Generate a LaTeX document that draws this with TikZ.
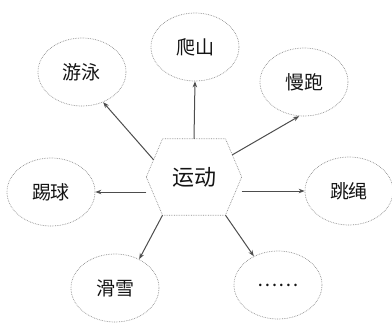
\documentclass[tikz,border=0pt]{standalone}
\usepackage{fontspec}
\newfontfamily\cjk{Noto Sans CJK SC}
\usepackage{tikz}
\usetikzlibrary{arrows.meta,positioning,shapes.geometric,calc}
\definecolor{Rim}{HTML}{8C8C8C}
\definecolor{Ink}{HTML}{4D4D4D}

\begin{document}
\begin{tikzpicture}[
    x=1pt,y=-1pt,
    topic/.style={ellipse,draw=Rim,densely dotted,line width=0.7pt,minimum width=88pt,
      minimum height=68pt,inner sep=0pt,font=\cjk\fontsize{19}{19}\selectfont,text=black!92},
    hub/.style={minimum width=95pt,minimum height=76pt,inner sep=0pt,
      font=\cjk\fontsize{22}{22}\selectfont,text=black!92},
    rim/.style={draw=Rim,densely dotted,line width=0.7pt},
    arr/.style={-{Stealth[length=6pt,width=4.5pt]},Ink,line width=1pt}
  ]
    \useasboundingbox (0,0) rectangle (392,325);
    % centre
    \node[hub] (hex) at (194,177) {运动};
    \coordinate (hex-l) at (hex.west);
    \coordinate (hex-tl) at ($(hex.north west)!.17!(hex.north east)$);
    \coordinate (hex-tr) at ($(hex.north east)!.17!(hex.north west)$);
    \coordinate (hex-r) at (hex.east);
    \coordinate (hex-br) at ($(hex.south east)!.17!(hex.south west)$);
    \coordinate (hex-bl) at ($(hex.south west)!.17!(hex.south east)$);
    \draw[rim] (hex-l) -- (hex-tl) -- (hex-tr) -- (hex-r) -- (hex-br) -- (hex-bl) -- cycle;
    % the activities
    \node[topic] (ps) at (195,47) {爬山};
    \node[topic] (yy) at (82,72) {游泳};
    \node[topic] (mp) at (304,82) {慢跑};
    \node[topic] (tq) at (51,192) {踢球};
    \node[topic] (ts) at (349,191) {跳绳};
    \node[topic] (hx) at (115,288) {滑雪};
    \node[topic] (dd) at (278,285) {……};
    % arrows
    \draw[arr] ($(hex-l)!.45!(hex-tl)$) -- (yy.-55);
    \draw[arr] (hex.north) -- (ps.south);
    \draw[arr] ($(hex-tr)!.42!(hex-r)$) -- (mp.262);
    \draw[arr] (hex-l |- tq) -- (tq);
    \draw[arr] (hex-r |- ts) -- (ts);
    \draw[arr] (hex-bl) -- (hx.50);
    \draw[arr] (hex-br) -- (dd.130);
  \end{tikzpicture}
\end{document}
